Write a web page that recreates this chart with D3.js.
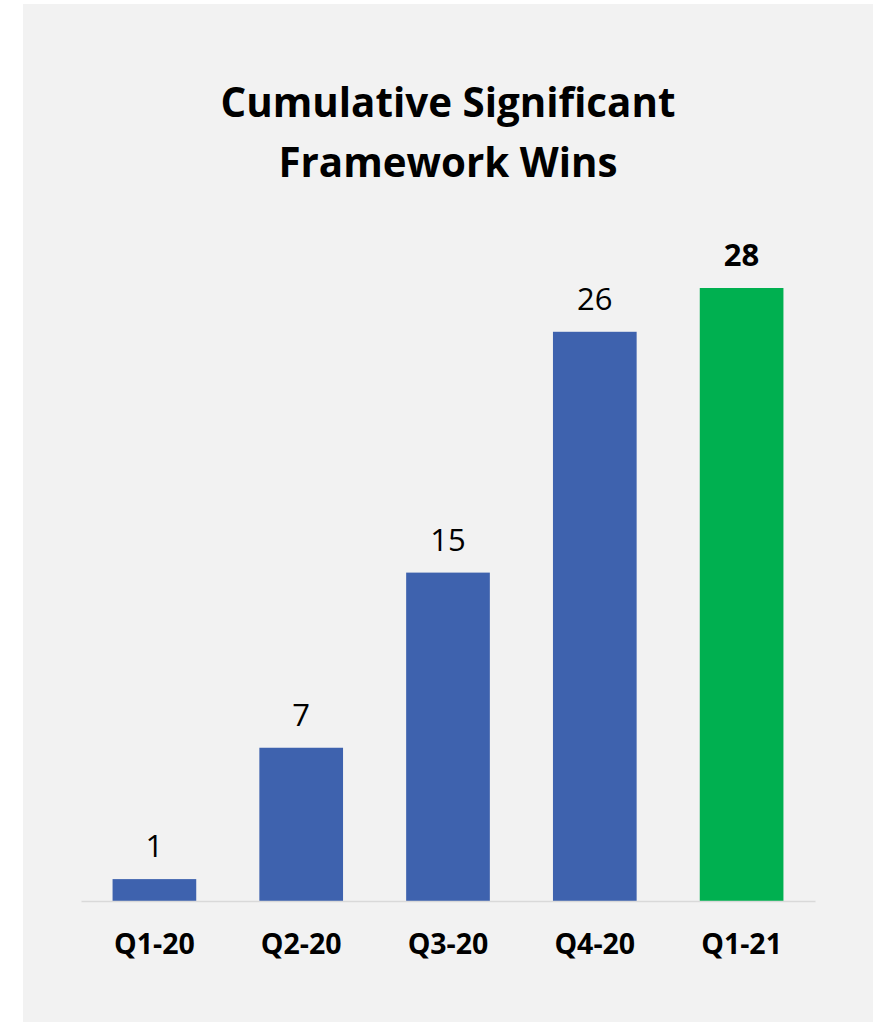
<!DOCTYPE html>
<html><head><meta charset="utf-8">
<script src="https://cdn.jsdelivr.net/npm/d3@7/dist/d3.min.js"></script>
<style>html,body{margin:0;padding:0;background:#fff;}svg{display:block;}</style>
</head><body>
<script>
const categories = ["Q1-20","Q2-20","Q3-20","Q4-20","Q1-21"];
const values = [1,7,15,26,28];
const barColors = ["#3e62ae","#3e62ae","#3e62ae","#3e62ae","#00b050"];
const titleLines = ["Cumulative Significant","Framework Wins"];

const W = 884, H = 1022;
const svg = d3.select("body").append("svg").attr("width",W).attr("height",H);
svg.append("rect").attr("x",23).attr("y",4).attr("width",850).attr("height",H-4).attr("fill","#f2f2f2");

const font = "'Open Sans', sans-serif";
const x = d3.scaleBand().domain(categories).range([81,815]).paddingInner(0.43).paddingOuter(0.215);
const y = d3.scaleLinear().domain([0,28]).range([901,288]);

// title
const t = svg.append("g");
titleLines.forEach((s,i)=>{
  t.append("text").attr("x",448).attr("y",117+i*60).attr("text-anchor","middle")
   .attr("font-family",font).attr("font-weight","bold").attr("font-size",40).attr("fill","#000").text(s);
});
const n0 = t.select("text").node();
const fs = 40*455/n0.getComputedTextLength();
t.selectAll("text").attr("font-size",fs);

svg.append("g").selectAll("rect").data(values).join("rect")
  .attr("x",(d,i)=>x(categories[i])).attr("width",x.bandwidth())
  .attr("y",d=>y(d)).attr("height",d=>y(0)-y(d))
  .attr("fill",(d,i)=>barColors[i]);

// axis
const ax = svg.append("g").attr("transform","translate(0,901)").call(d3.axisBottom(x).tickSize(0).tickPadding(0));
ax.select(".domain").attr("stroke","#d9d9d9").attr("stroke-width",1.5);
ax.selectAll(".tick text").attr("font-family",font).attr("font-weight","bold").attr("font-size",28.5)
  .attr("fill","#000").attr("dy",null).attr("y",53);

// value labels
svg.append("g").selectAll("text").data(values).join("text")
  .attr("x",(d,i)=>x(categories[i])+x.bandwidth()/2).attr("y",d=>y(d)-22)
  .attr("text-anchor","middle").attr("font-family",font).attr("font-size",31)
  .attr("font-weight",(d,i)=>i===values.length-1?"bold":"normal")
  .attr("fill","#000").text(d=>d);
</script>
</body></html>
